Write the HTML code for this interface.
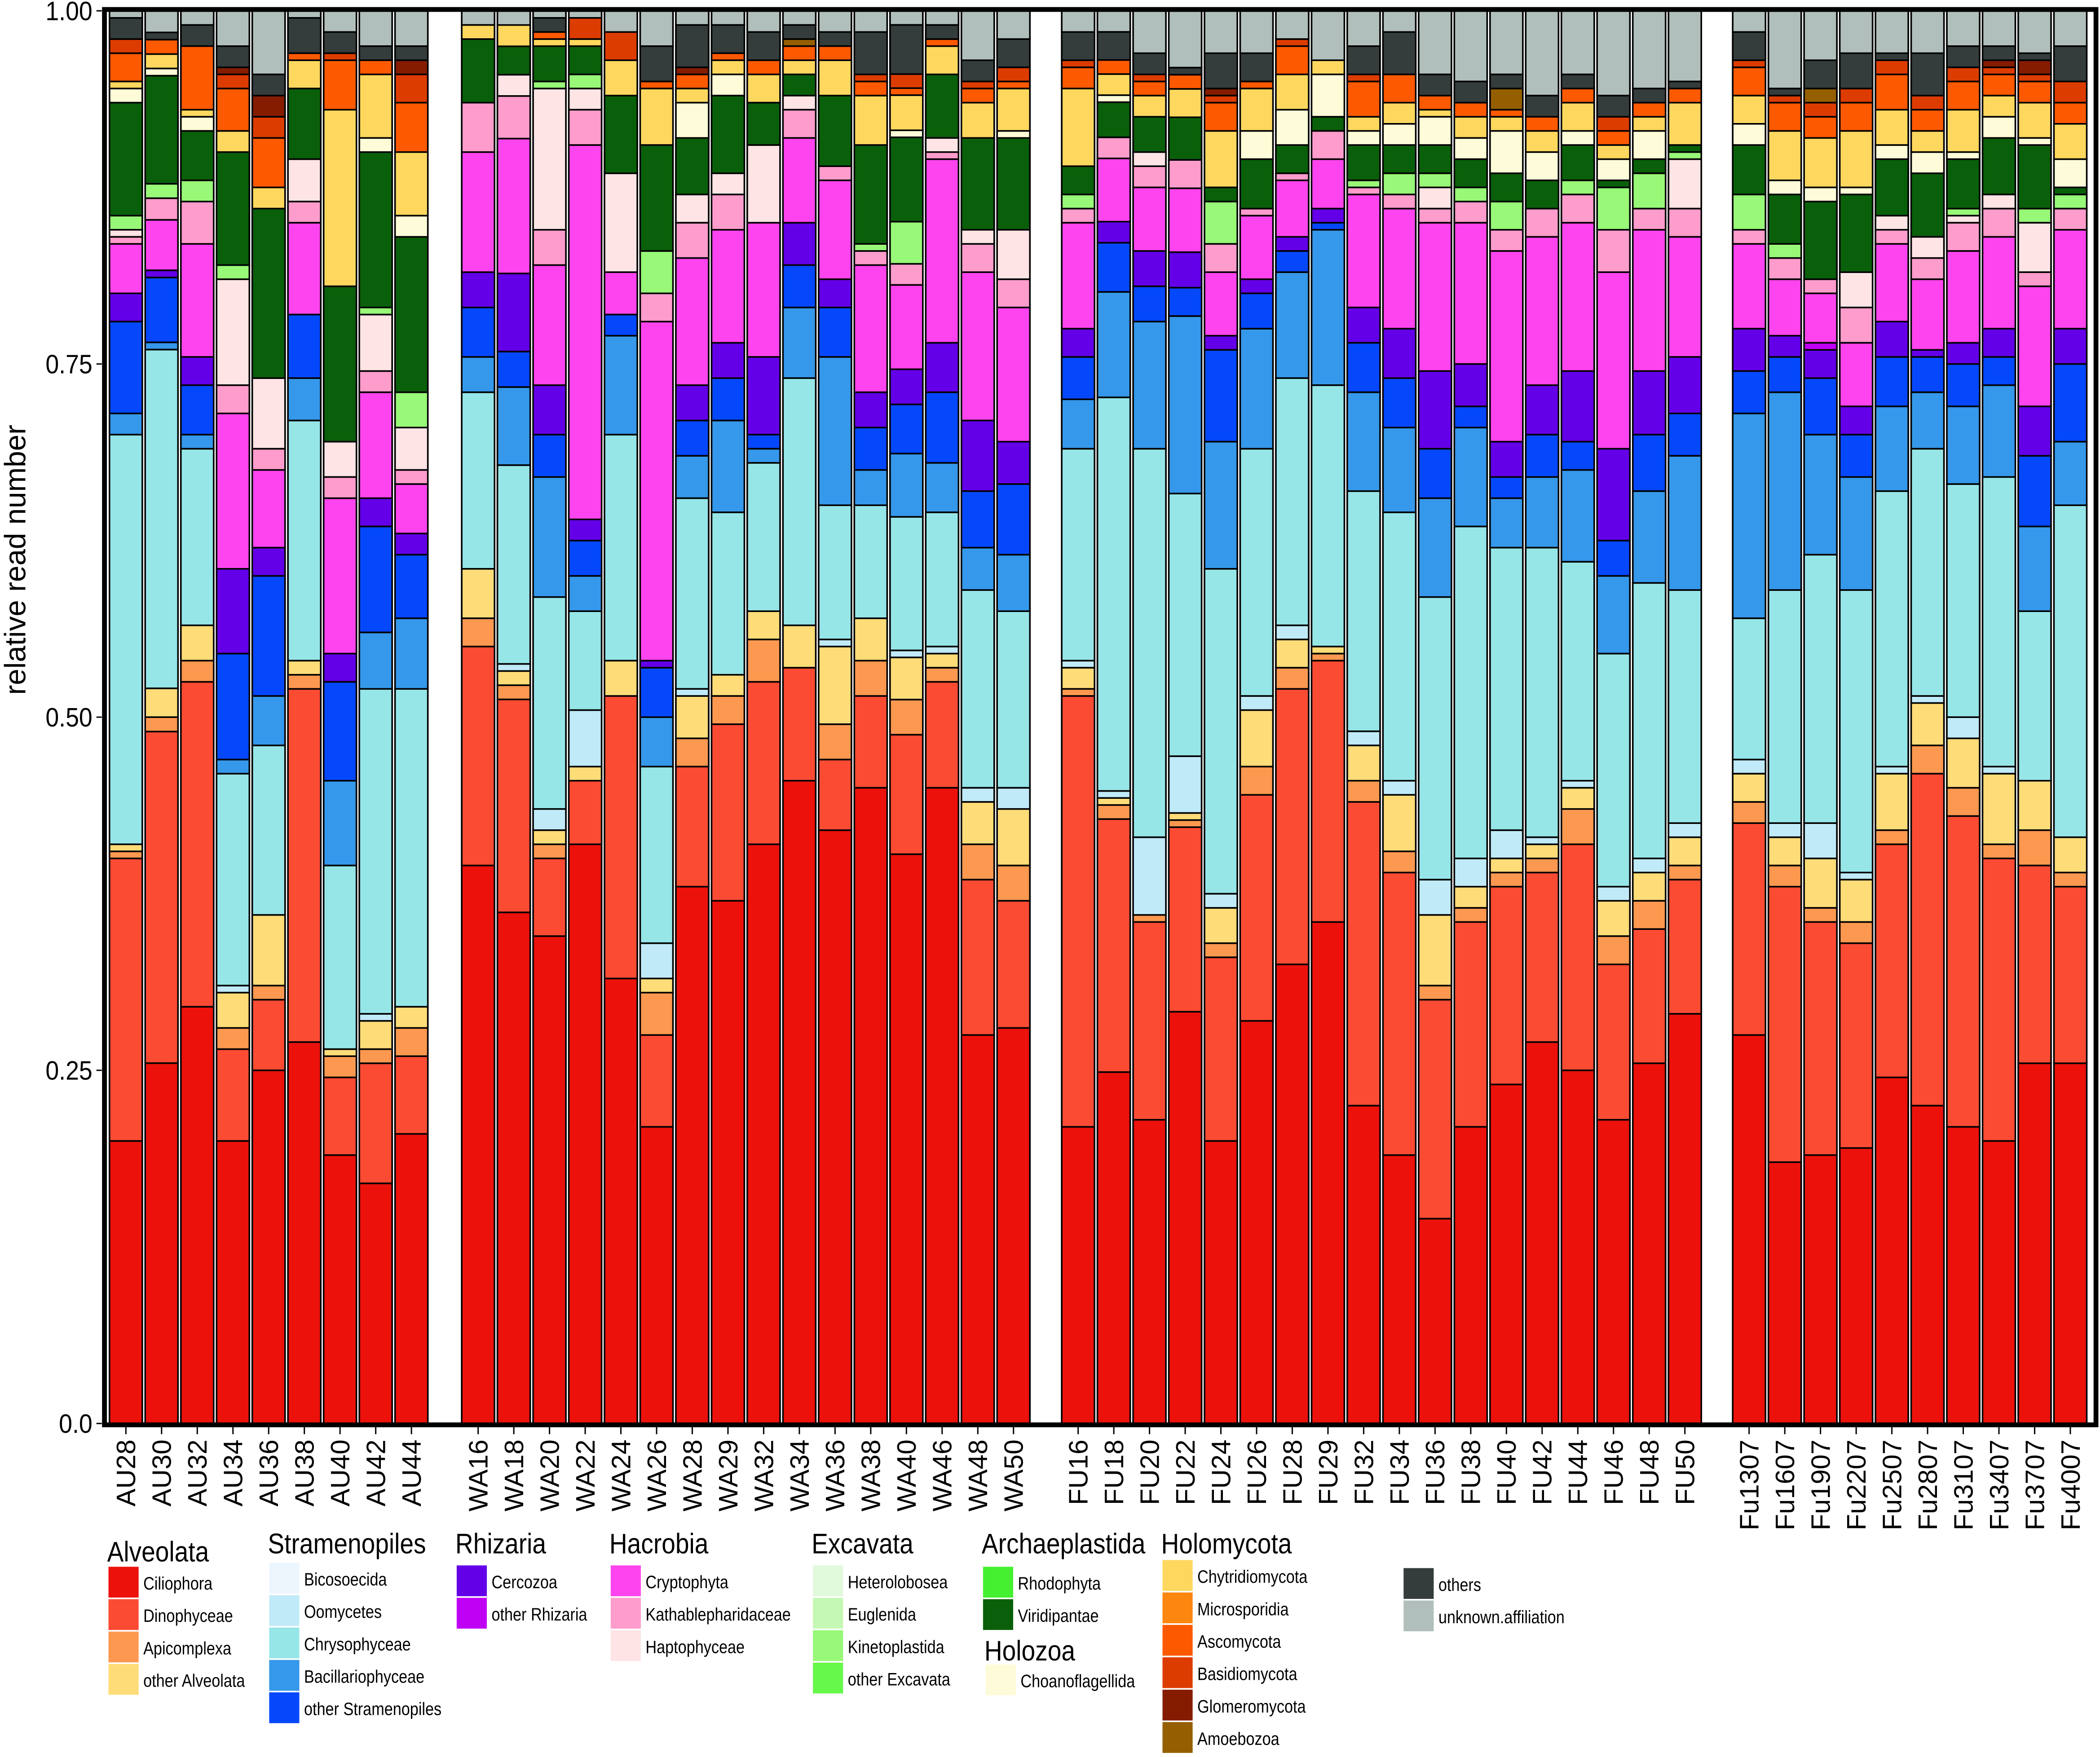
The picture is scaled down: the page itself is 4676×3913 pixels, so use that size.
<!DOCTYPE html>
<html><head><meta charset="utf-8"><style>
html,body{margin:0;padding:0;background:#fff;}
svg{display:block;font-family:"Liberation Sans Narrow","Liberation Sans",sans-serif;}
</style></head><body>
<svg id="chart" width="4676" height="3913" viewBox="0 0 1568 1312" xmlns="http://www.w3.org/2000/svg">
<g id="bars"></g>
<g id="axes"></g>
<g id="legend"></g>
</svg>
<script>
const samples = ["AU28","AU30","AU32","AU34","AU36","AU38","AU40","AU42","AU44",
"WA16","WA18","WA20","WA22","WA24","WA26","WA28","WA29","WA32","WA34","WA36","WA38","WA40","WA46","WA48","WA50",
"FU16","FU18","FU20","FU22","FU24","FU26","FU28","FU29","FU32","FU34","FU36","FU38","FU40","FU42","FU44","FU46","FU48","FU50",
"Fu1307","Fu1607","Fu1907","Fu2207","Fu2507","Fu2807","Fu3107","Fu3407","Fu3707","Fu4007"];
const sampleGroup = [0,0,0,0,0,0,0,0,0, 1,1,1,1,1,1,1,1,1,1,1,1,1,1,1,1, 2,2,2,2,2,2,2,2,2,2,2,2,2,2,2,2,2,2, 3,3,3,3,3,3,3,3,3,3];
const yTicks = [0, 0.25, 0.5, 0.75, 1.0];
const yTickLabels = ["0.0","0.25","0.50","0.75","1.00"];

const ciliophora = [20,25,29.5,20,25,27,19,17,20.5, 39.5,36,34.5,41,31.5,21,38,37,41,45.5,42,45,40.5,45,27.5,28, 21,25,21.5,29,20,28.5,32.5,35.5,22.5,19,14.5,21,24,27,25,21.5,25.5,29, 27.5,18.5,19,19.5,24.5,22.5,21,20,25.5,25.5];
const dinophyceae = [20,23,23,6.5,5,25,5.5,8.5,5.5, 15.5,15,5.5,4.5,20,6.5,8.5,12.5,11.5,8,5,6.5,8.5,7.5,11,9, 30.5,18,14,13,13,16,19.5,18.5,21.5,20,15.5,14.5,14,12,16,11,9.5,9.5, 15,19.5,16.5,14.5,16.5,23.5,22,20,14,12.5];
const apicomplexa = [.5,1,1.5,1.5,1,1,1.5,1,2, 2,1,1,0,0,3,2,2,3,0,2.5,2.5,2.5,1,2.5,2.5, .5,1,.5,.5,1,2,1.5,.5,1.5,1.5,1,1,1,1,2.5,2,2,1, 1.5,1.5,1,1.5,1,2,2,1,2.5,1];
const otherAlveolata = [.5,2,2.5,2.5,5,1,.5,2,1.5, 3.5,1,1,1,2.5,1,3,1.5,2,3,5.5,3,3,1,3,4, 1.5,.5,0,.5,2.5,4,2,.5,2.5,4,5,1.5,1,1,1.5,2.5,2,2, 2,2,3.5,3,4,3,3.5,5,3.5,2.5];
const bicosoecida = [0,0,0,0,0,0,0,0,0, 0,0,0,0,0,0,0,0,0,0,0,0,0,0,0,0, 0,0,0,0,0,0,0,0,0,0,0,0,0,0,0,0,0,0, 0,0,0,0,0,0,0,0,0,0];
const oomycetes = [0,0,0,.5,0,0,0,.5,0, 0,.5,1.5,4,0,2.5,.5,0,0,0,.5,0,.5,.5,1,1.5, .5,.5,5.5,4,1,1,1,0,1,1,2.5,2,2,.5,.5,1,1,1, 1,1,2.5,.5,.5,.5,1.5,.5,0,0];
const chrysophyceae = [29,23.5,12.5,15,12,17,13,23,22.5, 12.5,14,15,7,16,12.5,13.5,11.5,10.5,17.5,9.5,8,9.5,9.5,14,12.5, 15,28,27.5,18.5,23,17.5,17.5,18.5,17,19,20,23.5,20,20.5,15.5,16.5,19.5,16.5, 10,16.5,19,20,19.5,17.5,16.5,20.5,12,23.5];
const bacillariophyceae = [1.5,.5,1,1,3.5,3,6,4,5, 2.5,5.5,8.5,2.5,7,3.5,3,6.5,1,5,10.5,2.5,4.5,3.5,3,4, 3.5,7.5,9,12.5,9,8.5,7.5,11,7,6,7,7,3.5,5,6.5,5.5,6.5,9.5, 14.5,14,8.5,8,6,4,5.5,6.5,6,4.5];
const otherStramenopiles = [6.5,4.5,3.5,7.5,8.5,4.5,7,7.5,4.5, 3.5,2.5,3,2.5,1.5,3.5,2.5,3,1,3,3.5,3,3.5,5,4,5, 3,3.5,2.5,2,6.5,2.5,1.5,.5,3.5,3.5,3.5,1.5,1.5,3,2,2.5,4,3, 3,2.5,4,3,3.5,2.5,3,2,5,5.5];
const cercozoa = [2,.5,2,6,2,0,2,2,1.5, 2.5,5.5,3.5,1.5,0,.5,2.5,2.5,5.5,3,2,2.5,2.5,3.5,5,3, 2,1.5,2.5,2.5,1,1,1,1,2.5,3.5,5.5,3,2.5,3.5,5,6.5,4.5,4, 3,1.5,2,2,2.5,.5,1.5,2,3.5,2.5];
const otherRhizaria = [0,0,0,0,0,0,0,0,0, 0,0,0,0,0,0,0,0,0,0,0,0,0,0,0,0, 0,0,0,0,0,0,0,0,0,0,0,0,0,0,0,0,0,0, 0,0,.5,0,0,0,0,0,0,0];
const cryptophyta = [3.5,3.5,8,11,5.5,6.5,11,7.5,3.5, 8.5,9.5,8.5,26.5,3,24,9,8,9.5,6,7,9,6,13,10.5,9.5, 7.5,4.5,4.5,4.5,4.5,4.5,4,3.5,8,8.5,10.5,10,13.5,10.5,10.5,12.5,10,8.5, 6,4,3.5,4.5,5.5,5,6.5,6.5,8.5,7];
const kathablepharidaceae = [.5,1.5,3,2,1.5,1.5,1.5,1.5,1, 3.5,3,2.5,2.5,0,2,2.5,2.5,0,2,1,1,1.5,.5,2,2, 1,1.5,1.5,2,2,.5,.5,2,.5,1,1,1.5,1.5,2,2,3,1.5,2, 1,1.5,1,2.5,1,1.5,2,2,1,1.5];
const haptophyceae = [.5,0,0,7.5,5,3,2.5,4,3, 0,1.5,10,1.5,7,0,2,1.5,5.5,1,0,0,0,1,1,3.5, 0,0,1,0,0,0,0,0,0,0,1.5,0,0,0,0,0,0,3.5, 0,0,0,2.5,1,1.5,.5,1,3.5,0];
const kinetoplastida = [1,1,1.5,1,0,0,0,.5,2.5, 0,0,.5,1,0,3,0,0,0,0,0,.5,3,0,0,0, 1,0,0,0,3,0,0,0,.5,1.5,1,1,2,0,1,3,2.5,.5, 2.5,1,0,0,0,0,.5,0,1,1];
const viridiplantae = [8,7.5,3.5,8,12,5,11,11,11, 4.5,2,2.5,2,5.5,7.5,4,5.5,3,1.5,5,7,6,4.5,6.5,6.5, 2,2.5,2.5,3,1,3.5,2,1,2.5,2,2,2,2,2,2.5,.5,1,.5, 3.5,3.5,5.5,5.5,4,4.5,3.5,4,4.5,.5];
const choanoflagellida = [1,.5,1,0,0,0,0,1,1.5, 0,0,0,0,0,0,2.5,1.5,0,0,0,0,.5,0,0,.5, 0,.5,0,0,0,2,2.5,3,1,1.5,2,1.5,3,2,1,1.5,2,0, 1.5,1,1,.5,1,1.5,.5,1.5,.5,2];
const chytridiomycota = [.5,1,.5,1.5,1.5,2,12.5,4.5,4.5, 1,1.5,.5,.5,2.5,4,1,1,2,1,2.5,3.5,2.5,2,2.5,3, 5.5,1.5,1.5,2,4,3,2.5,1,1,1.5,.5,1.5,1,1.5,2,1,1,3, 2,3.5,3.5,4,2.5,1.5,3,1.5,2.5,2.5];
const ascomycota = [2,1,4.5,3,3.5,.5,3.5,1,3.5, 0,0,.5,0,0,.5,1,.5,1,1,1,1,.5,.5,1,.5, 1.5,1,1,1,2,.5,2,0,2.5,2,1,1,.5,1,1,1,1,1, 2,2,1.5,2,2.5,1.5,2,1.5,1.5,1.5];
const basidiomycota = [1,0,0,1,1.5,0,.5,0,2, 0,0,0,1.5,2,0,0,0,0,0,0,.5,1,0,.5,1, .5,0,.5,0,.5,0,.5,0,.5,0,0,0,0,0,0,1,0,0, .5,.5,1,1,1,1,1,.5,.5,1.5];
const glomeromycota = [0,0,0,.5,1.5,0,0,0,1, 0,0,0,0,0,0,.5,0,0,0,0,0,0,0,0,0, 0,0,0,0,.5,0,0,0,0,0,0,0,0,0,0,0,0,0, 0,0,0,0,0,0,0,.5,1,0];
const amoebozoa = [0,0,0,0,0,0,0,0,0, 0,0,0,0,0,0,0,0,0,.5,0,0,0,0,0,0, 0,0,0,0,0,0,0,0,0,0,0,0,1.5,0,0,0,0,0, 0,0,1,0,0,0,0,0,0,0];
const others = [1.5,.5,1.5,1.5,1.5,2.5,1.5,1,1, 0,0,1,0,0,2.5,3,2,2,1,1,3,3.5,1,1.5,2, 2,2,1.5,.5,2.5,2,0,0,2,3,1.5,1.5,1,1.5,1,1.5,1,.5, 2,.5,2,2.5,.5,3,1.5,1,.5,2.5];
const unknownAffiliation = [.5,1.5,1,2.5,4.5,.5,1.5,2.5,2.5, 1,1,.5,.5,1.5,2.5,1,1,1.5,1,1.5,1.5,1,1,3.5,2, 1.5,1.5,3,4,3,3,2,3.5,2.5,1.5,4.5,5,4.5,6,4.5,6,5.5,5, 1.5,5.5,3.5,3,3,3,2.5,2.5,3,2.5];

const series = [
 ["Ciliophora","#ec110b",ciliophora],["Dinophyceae","#fc4b33",dinophyceae],["Apicomplexa","#fd9850",apicomplexa],["other Alveolata","#fedc78",otherAlveolata],
 ["Bicosoecida","#edf5fd",bicosoecida],["Oomycetes","#c0eaf8",oomycetes],["Chrysophyceae","#96e6e8",chrysophyceae],["Bacillariophyceae","#3598ea",bacillariophyceae],["other Stramenopiles","#0548fc",otherStramenopiles],
 ["Cercozoa","#6400e8",cercozoa],["other Rhizaria","#c000f4",otherRhizaria],
 ["Cryptophyta","#fe44ee",cryptophyta],["Kathablepharidaceae","#fe9ccc",kathablepharidaceae],["Haptophyceae","#fee4e4",haptophyceae],
 ["Kinetoplastida","#98f878",kinetoplastida],
 ["Viridiplantae","#0a600a",viridiplantae],["Choanoflagellida","#fefcd8",choanoflagellida],
 ["Chytridiomycota","#fed85e",chytridiomycota],["Ascomycota","#fd5900",ascomycota],["Basidiomycota","#dd3c00",basidiomycota],["Glomeromycota","#851c00",glomeromycota],["Amoebozoa","#955e00",amoebozoa],
 ["others","#343c3c",others],["unknown.affiliation","#b0bfbc",unknownAffiliation]
];

const NS="http://www.w3.org/2000/svg";
function mk(tag, attrs, parent){const e=document.createElementNS(NS,tag);for(const k in attrs)e.setAttribute(k,attrs[k]);parent.appendChild(e);return e;}
const plotL=78, plotR=1565, plotT=8, plotB=1063;
const y = v => plotB - v*(plotB-plotT);
const groupStart=[94,357,805,1306], step=26.65, barW=24.5;
const groupFirst=[0,9,25,43];
const xCenter = i => groupStart[sampleGroup[i]] + (i-groupFirst[sampleGroup[i]])*step;

const barsG=document.getElementById('bars');
samples.forEach((s,i)=>{
  let total=0; series.forEach(sr=>total+=sr[2][i]);
  let cum=0;
  const g=mk('g',{},barsG);
  
  
  series.forEach(sr=>{
    const v=sr[2][i]/total; if(v<=0) return;
    const y0=y(cum), y1=y(cum+v); cum+=v;
    const r=mk('rect',{x:xCenter(i)-barW/2,y:y1,width:barW,height:y0-y1,fill:sr[1],stroke:'#000','stroke-width':1.2},g);
    
    
  });
});

const ax=document.getElementById('axes');
const frame=mk('rect',{x:plotL,y:plotT-1,width:plotR-plotL,height:plotB-plotT+2,fill:'none',stroke:'#000','stroke-width':3.6},ax);


yTicks.forEach((t,k)=>{
  mk('line',{x1:plotL-6,x2:plotL-2,y1:y(t),y2:y(t),stroke:'#000','stroke-width':1},ax);
  const tx=mk('text',{x:0,y:0,transform:`translate(${plotL-9},${y(t)+7}) scale(0.9,1)`,'text-anchor':'end','font-size':20,fill:'#000'},ax);
  tx.textContent=yTickLabels[k];
  
  
});
const yt=mk('text',{x:0,y:0,transform:'translate(19,418) rotate(-90)','text-anchor':'middle','font-size':22,fill:'#000',style:'font-family:"Liberation Sans",sans-serif'},ax);
yt.textContent='relative read number';


samples.forEach((s,i)=>{
  const cx=xCenter(i);
  mk('line',{x1:cx,x2:cx,y1:plotB+2,y2:plotB+8,stroke:'#000','stroke-width':1},ax);
  const tx=mk('text',{x:0,y:0,transform:`translate(${cx+7},${plotB+12}) rotate(-90)`,'text-anchor':'end','font-size':20,fill:'#000',style:'font-family:"Liberation Sans",sans-serif'},ax);
  tx.textContent=s;
  
  
});

const lg=document.getElementById('legend');
const legendGroups=[
 {title:"Alveolata",x:80,ty:1166,y0:1170,items:[["Ciliophora","#ec110b"],["Dinophyceae","#fc4b33"],["Apicomplexa","#fd9850"],["other Alveolata","#fedc78"]]},
 {title:"Stramenopiles",x:200,ty:1160,y0:1167,items:[["Bicosoecida","#edf5fd"],["Oomycetes","#c0eaf8"],["Chrysophyceae","#96e6e8"],["Bacillariophyceae","#3598ea"],["other Stramenopiles","#0548fc"]]},
 {title:"Rhizaria",x:340,ty:1160,y0:1169,items:[["Cercozoa","#6400e8"],["other Rhizaria","#c000f4"]]},
 {title:"Hacrobia",x:455,ty:1160,y0:1169,items:[["Cryptophyta","#fe44ee"],["Kathablepharidaceae","#fe9ccc"],["Haptophyceae","#fee4e4"]]},
 {title:"Excavata",x:606,ty:1160,y0:1169,items:[["Heterolobosea","#e2fadc"],["Euglenida","#c4f8b4"],["Kinetoplastida","#98f878"],["other Excavata","#66f84a"]]},
 {title:"Archaeplastida",x:733,ty:1160,y0:1170,items:[["Rhodophyta","#44f030"],["Viridipantae","#0a600a"]]},
 {title:"Holozoa",x:735,ty:1240,y0:1243,items:[["Choanoflagellida","#fefcd8"]]},
 {title:"Holomycota",x:867,ty:1160,y0:1165,items:[["Chytridiomycota","#fed85e"],["Microsporidia","#fd8610"],["Ascomycota","#fd5900"],["Basidiomycota","#dd3c00"],["Glomeromycota","#851c00"],["Amoebozoa","#955e00"]]},
 {title:"",x:1047,ty:0,y0:1171,items:[["others","#343c3c"],["unknown.affiliation","#b0bfbc"]]}
];
legendGroups.forEach(gr=>{
  const g=mk('g',{},lg);
  
  
  if(gr.title){
    const t=mk('text',{x:0,y:0,transform:`translate(${gr.x},${gr.ty}) scale(0.88,1)`,'font-size':21,fill:'#000'},g);
    t.textContent=gr.title;
    
    
  }
  gr.items.forEach((it,k)=>{
    const yy=gr.y0+k*24.2;
    const sw=mk('rect',{x:gr.x+1,y:yy,width:22.5,height:23,fill:it[1]},g);
    
    
    const t=mk('text',{x:0,y:0,transform:`translate(${gr.x+27},${yy+17}) scale(0.85,1)`,'font-size':13.5,fill:'#000'},g);
    t.textContent=it[0];
    
    
  });
});
</script>
</body></html>
